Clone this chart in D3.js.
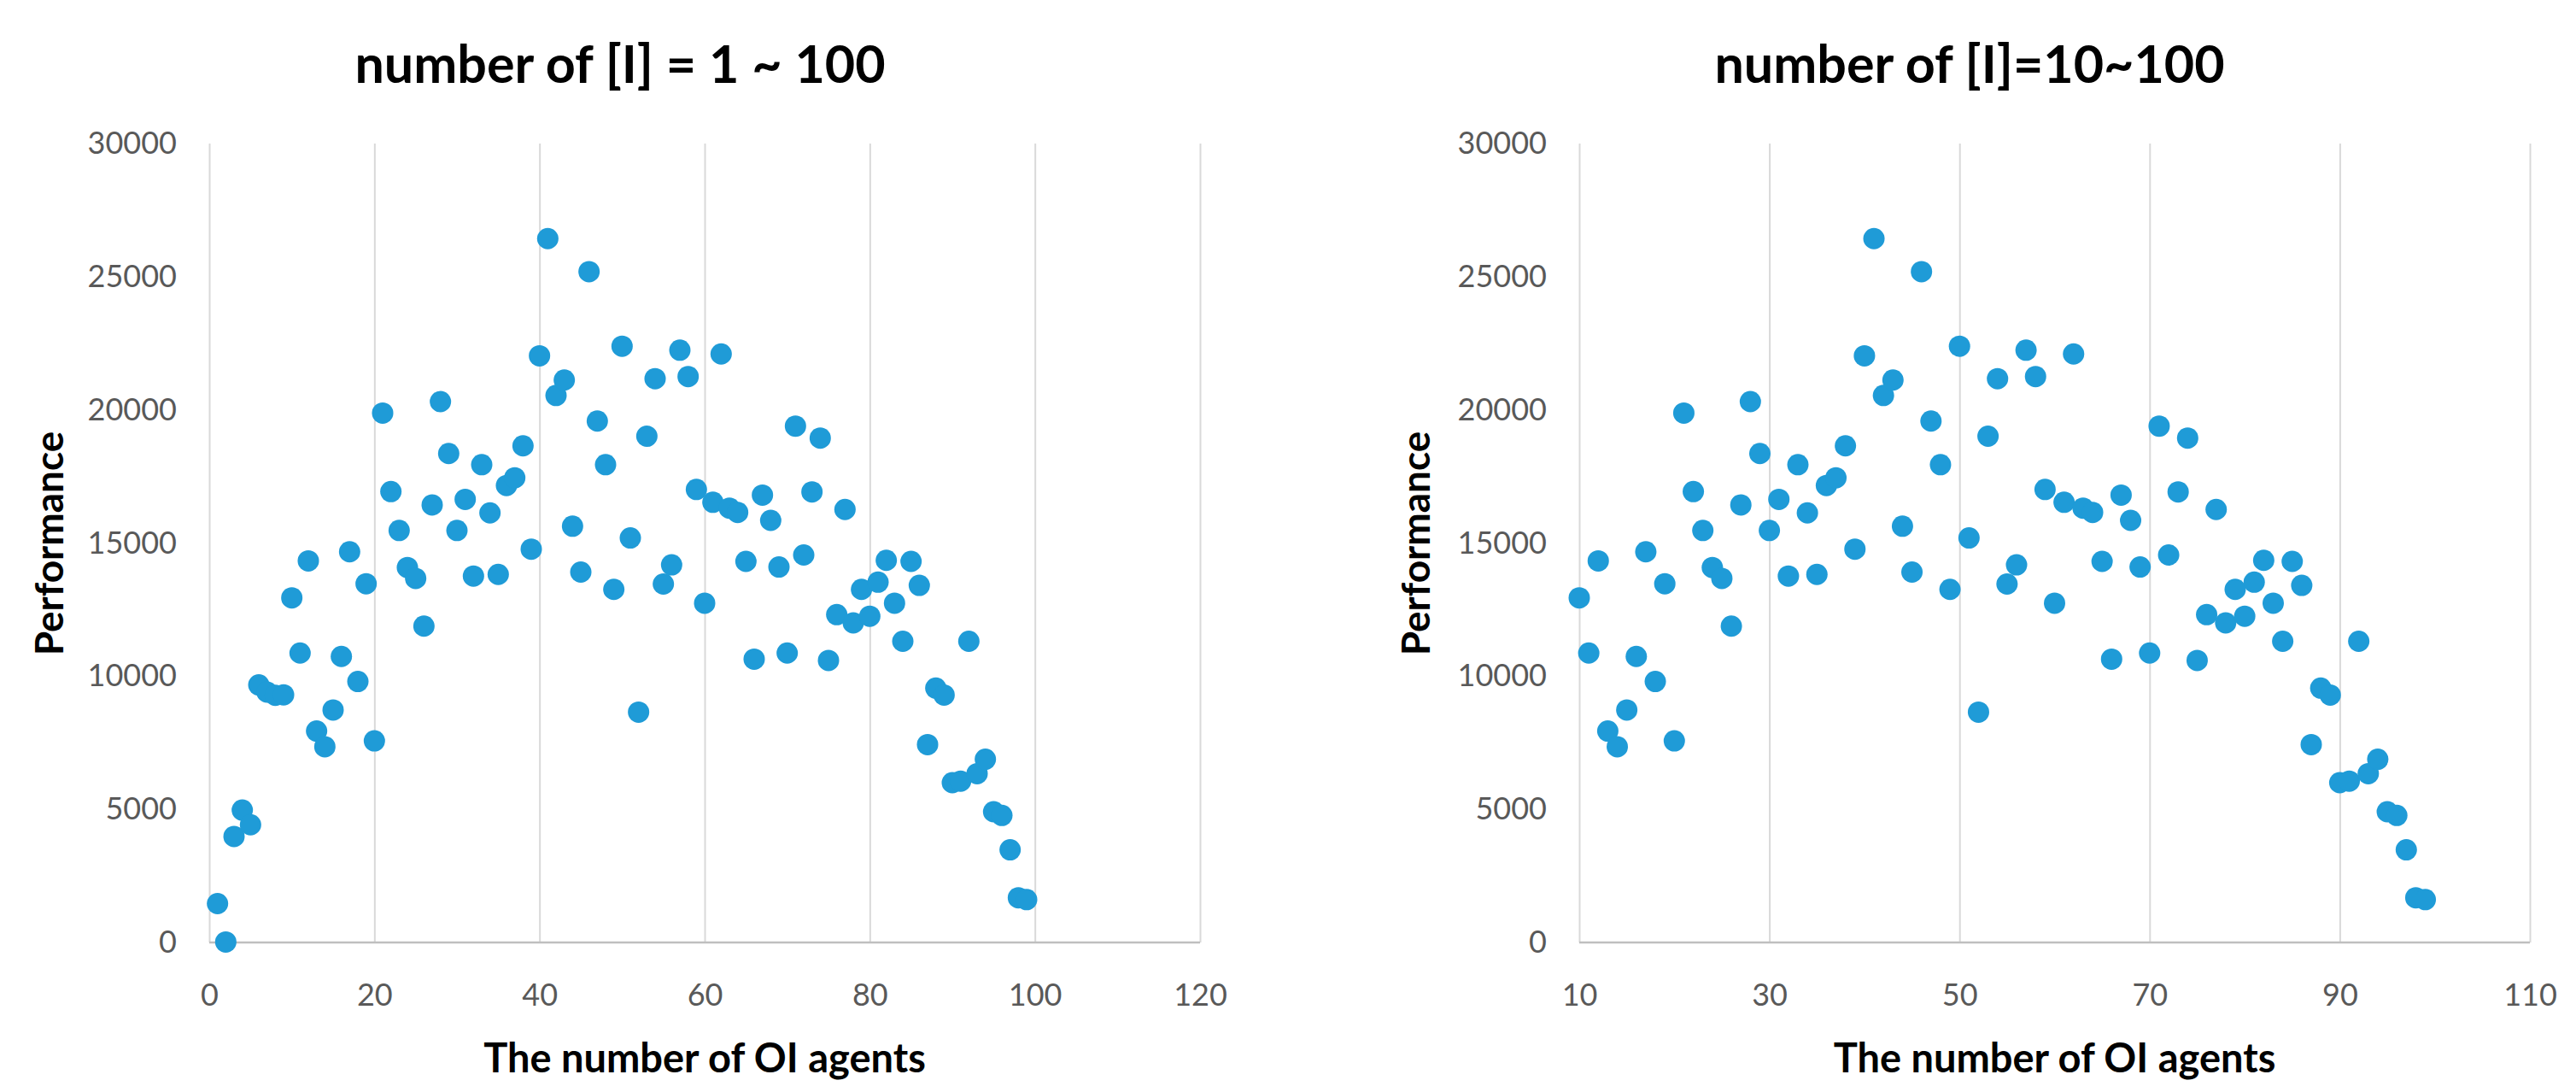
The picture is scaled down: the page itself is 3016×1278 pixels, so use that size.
<html>
<head>
<script src="https://d3js.org/d3.v7.min.js"></script>
<style>
body { margin: 0; background: #fff; }
text { font-family: Lato, "Noto Sans", sans-serif; }
.tick text { fill: #595959; font-size: 36px; }
.grid line { stroke: #d9d9d9; stroke-width: 2; }
.grid .domain { stroke: none; }
</style>
</head>
<body>
<svg id="all" width="3016" height="1278"></svg>
<script>
// values
const agents = [
  1, 2, 3, 4, 5, 6, 7, 8, 9, 10,
  11, 12, 13, 14, 15, 16, 17, 18, 19, 20,
  21, 22, 23, 24, 25, 26, 27, 28, 29, 30,
  31, 32, 33, 34, 35, 36, 37, 38, 39, 40,
  41, 42, 43, 44, 45, 46, 47, 48, 49, 50,
  51, 52, 53, 54, 55, 56, 57, 58, 59, 60,
  61, 62, 63, 64, 65, 66, 67, 68, 69, 70,
  71, 72, 73, 74, 75, 76, 77, 78, 79, 80,
  81, 82, 83, 84, 85, 86, 87, 88, 89, 90,
  91, 92, 93, 94, 95, 96, 97, 98, 99
];
const performance = [
  1460, 20, 3980, 4970, 4420, 9670, 9400, 9280, 9300, 12940,
  10870, 14330, 7940, 7350, 8730, 10740, 14670, 9800, 13470, 7570,
  19880, 16930, 15470, 14080, 13670, 11880, 16430, 20310, 18360, 15470,
  16640, 13760, 17940, 16130, 13820, 17160, 17450, 18650, 14770, 22030,
  26430, 20540, 21120, 15630, 13910, 25190, 19580, 17940, 13260, 22390,
  15190, 8650, 19010, 21170, 13460, 14180, 22240, 21250, 17010, 12740,
  16530, 22100, 16310, 16150, 14310, 10640, 16800, 15850, 14100, 10870,
  19390, 14550, 16920, 18940, 10590, 12310, 16260, 12000, 13260, 12250,
  13530, 14350, 12740, 11310, 14310, 13410, 7430, 9550, 9290, 6000,
  6060, 11310, 6340, 6880, 4910, 4770, 3480, 1680, 1610
];
const yTicks = [0, 5000, 10000, 15000, 20000, 25000, 30000];
const leftXTicks = [0, 20, 40, 60, 80, 100, 120];
const rightXTicks = [10, 30, 50, 70, 90, 110];
const leftTitle = "number of [I] = 1 ~ 100";
const rightTitle = "number of [I]=10~100";
const xTitle = "The number of OI agents";
const yTitle = "Performance";

const svg = d3.select("svg#all");
const points = agents.map((a, i) => ({x: a, y: performance[i]}));

function panel(opt) {
    const g = svg.append("g");
    const xScale = d3.scaleLinear().domain(opt.xDomain).range([opt.left, opt.right]);
    const yScale = d3.scaleLinear().domain([0, 30000]).range([1103, 168]);

    // vertical gridlines
    g.append("g")
        .attr("class", "grid")
        .attr("transform", `translate(0,1103)`)
        .call(d3.axisBottom(xScale).tickValues(opt.xTicks).tickSize(-(1103 - 168)).tickFormat(""));

    // bottom axis line
    g.append("line")
        .attr("x1", opt.left).attr("x2", opt.right)
        .attr("y1", 1103).attr("y2", 1103)
        .attr("stroke", "#bfbfbf").attr("stroke-width", 2.5);

    let bottomAxis = d3.axisBottom(xScale).tickValues(opt.xTicks).tickSize(0).tickPadding(48);
    g.append("g")
        .attr("transform", `translate(0,1103)`)
        .call(bottomAxis)
        .call(a => a.select(".domain").remove());

    let leftAxis = d3.axisLeft(yScale).tickValues(yTicks).tickSize(0).tickPadding(38).tickFormat(d3.format("d"));
    g.append("g")
        .attr("transform", `translate(${opt.left},0)`)
        .call(leftAxis)
        .call(a => a.select(".domain").remove());

    g.selectAll("circle")
        .data(points.filter(d => d.x >= opt.xDomain[0]))
        .join("circle")
        .attr("cx", d => xScale(d.x))
        .attr("cy", d => yScale(d.y))
        .attr("r", 12.5)
        .attr("fill", "#1f9bd7");

    g.append("text")
        .attr("x", opt.titleX).attr("y", 97)
        .attr("text-anchor", "middle")
        .style("font-size", "61px").style("font-weight", "bold")
        .text(opt.title);

    g.append("text")
        .attr("x", (opt.left + opt.right) / 2).attr("y", 1255)
        .attr("text-anchor", "middle")
        .style("font-size", "47px").style("font-weight", "bold")
        .text(xTitle);

    g.append("text")
        .attr("transform", `translate(${opt.yTitleX},636) rotate(-90)`)
        .attr("text-anchor", "middle")
        .attr("dy", "0.35em")
        .style("font-size", "46px").style("font-weight", "bold")
        .text(yTitle);
}

panel({xDomain: [0, 120], xTicks: leftXTicks, left: 245, right: 1405, title: leftTitle, titleX: 726, yTitleX: 58});
panel({xDomain: [10, 110], xTicks: rightXTicks, left: 1849, right: 2962, title: rightTitle, titleX: 2306, yTitleX: 1658});
</script>
</body>
</html>
